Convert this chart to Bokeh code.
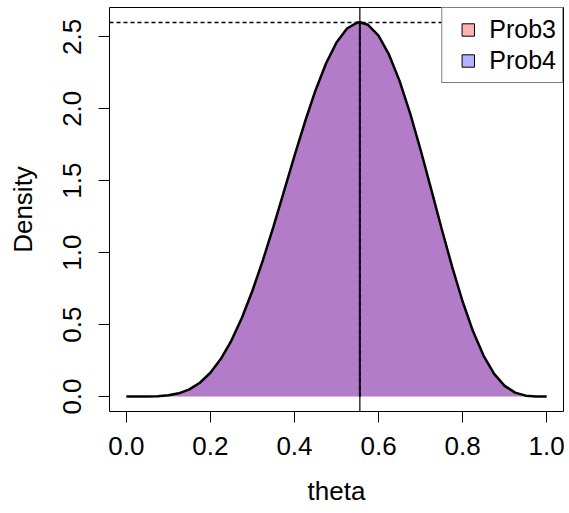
import math
from bokeh.plotting import figure
from bokeh.models import (Range1d, FixedTicker, NumeralTickFormatter, Span,
                          ColumnDataSource, Legend, LegendItem)
from bokeh.embed import file_html
from bokeh.resources import INLINE

# ---- data ----
theta = [0.0, 0.025, 0.05, 0.075, 0.1, 0.125, 0.15, 0.175, 0.2, 0.225,
         0.25, 0.275, 0.3, 0.325, 0.35, 0.375, 0.4, 0.425, 0.45, 0.475,
         0.5, 0.525, 0.55, 0.5556, 0.575, 0.6, 0.625, 0.65, 0.675, 0.7,
         0.725, 0.75, 0.775, 0.8, 0.825, 0.85, 0.875, 0.9, 0.925, 0.95,
         0.975, 1.0]
density = [0.0, 0.00001, 0.0003, 0.0022, 0.0083, 0.0225, 0.0500, 0.0958, 0.1652, 0.2621,
           0.3893, 0.5475, 0.7351, 0.9484, 1.1812, 1.4258, 1.6722, 1.9098, 2.1276, 2.3146,
           2.4609, 2.5583, 2.6004, 2.6018, 2.5838, 2.5082, 2.3762, 2.1939, 1.9699, 1.7153,
           1.4434, 1.1680, 0.9028, 0.6606, 0.4516, 0.2830, 0.1578, 0.0744, 0.0270, 0.0061,
           0.0004, 0.0]
mode_theta = 0.5556
peak_density = 2.6
x_ticks = [0.0, 0.2, 0.4, 0.6, 0.8, 1.0]
y_ticks = [0.0, 0.5, 1.0, 1.5, 2.0, 2.5]
legend_labels = ["Prob3", "Prob4"]

FONT = "Liberation Sans"
FS = "26px"

src = ColumnDataSource(dict(theta=theta, density=density,
                            zero=[0.0] * len(theta)))

p = figure(width=569, height=513, output_backend="svg", toolbar_location=None,
           x_range=Range1d(-0.04, 1.04), y_range=Range1d(-0.104, 2.704),
           min_border_left=109, min_border_right=6, min_border_top=7,
           min_border_bottom=102)
p.background_fill_color = "white"
p.border_fill_color = "white"
p.outline_line_color = "black"
p.outline_line_width = 1
p.xgrid.visible = False
p.ygrid.visible = False

# fills
p.varea(x="theta", y1="zero", y2="density", source=src,
        fill_color=(255, 0, 0), fill_alpha=0.3)
p.varea(x="theta", y1="zero", y2="density", source=src,
        fill_color=(0, 0, 255), fill_alpha=0.3)

# reference lines
p.add_layout(Span(location=mode_theta, dimension="height",
                  line_color="black", line_width=1.2))
p.add_layout(Span(location=peak_density, dimension="width",
                  line_color="black", line_width=1.5, line_dash="4 3"))
p.segment(x0=[mode_theta], y0=[0], x1=[mode_theta], y1=[peak_density],
          line_color="#2e2470", line_width=2)
p.segment(x0=[mode_theta], y0=[0], x1=[mode_theta], y1=[peak_density],
          line_color="black", line_width=2, line_dash="4 3")

# curve
p.line(x="theta", y="density", source=src, line_color="black", line_width=2.5)

# legend (swatch renderers carry no visible data)
nan = float("nan")
sw3 = ColumnDataSource(dict(x=[nan], y=[nan]))
sw4 = ColumnDataSource(dict(x=[nan], y=[nan]))
r3 = p.scatter(x="x", y="y", source=sw3, marker="square",
               fill_color=(255, 0, 0), fill_alpha=0.3, line_color="black")
r4 = p.scatter(x="x", y="y", source=sw4, marker="square",
               fill_color=(0, 0, 255), fill_alpha=0.3, line_color="black")
legend = Legend(items=[LegendItem(label=legend_labels[0], renderers=[r3]),
                       LegendItem(label=legend_labels[1], renderers=[r4])],
                location="top_right", margin=0, padding=6, spacing=0,
                glyph_width=39, glyph_height=31, label_standoff=2,
                label_text_font=FONT, label_text_font_size="25px",
                label_text_color="black",
                border_line_color="black", border_line_width=1,
                background_fill_color="white", background_fill_alpha=1.0)
p.add_layout(legend)

# axes
for ax in (p.xaxis[0], p.yaxis[0]):
    ax.axis_line_color = None
    ax.major_tick_out = 11
    ax.major_tick_in = 0
    ax.minor_tick_out = 0
    ax.minor_tick_in = 0
    ax.major_tick_line_color = "black"
    ax.major_label_text_font = FONT
    ax.major_label_text_font_size = FS
    ax.major_label_text_color = "black"
    ax.axis_label_text_font = FONT
    ax.axis_label_text_font_size = FS
    ax.axis_label_text_font_style = "normal"
    ax.axis_label_text_color = "black"
    ax.formatter = NumeralTickFormatter(format="0.0")

p.xaxis.ticker = FixedTicker(ticks=x_ticks)
p.yaxis.ticker = FixedTicker(ticks=y_ticks)
p.xaxis.axis_label = "theta"
p.yaxis.axis_label = "Density"
p.xaxis.major_label_standoff = 14
p.xaxis.axis_label_standoff = 18
p.yaxis.major_label_orientation = "parallel"
p.yaxis.major_label_standoff = 17
p.yaxis.axis_label_standoff = 23

open("out.html", "w").write(file_html(p, INLINE))
